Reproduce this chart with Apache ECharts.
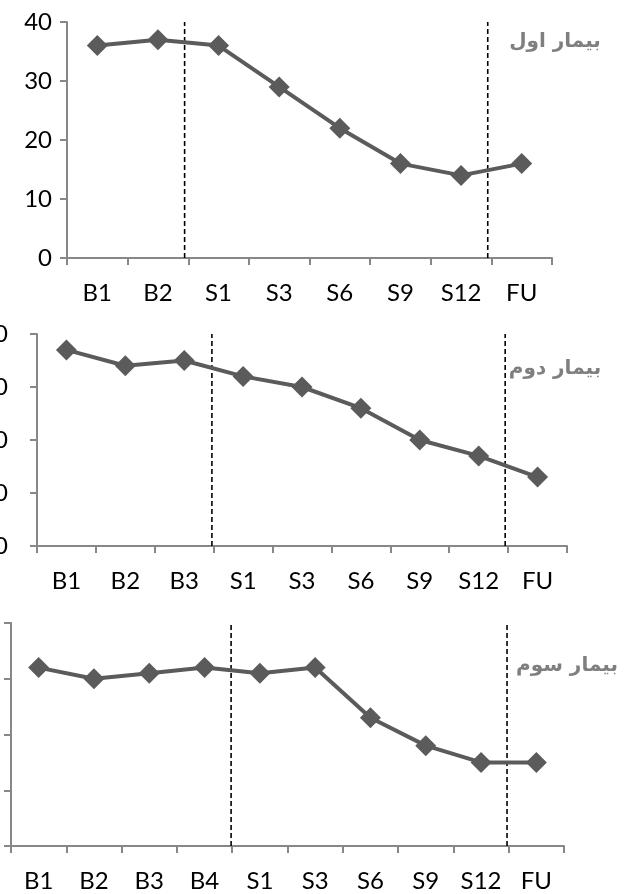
<!DOCTYPE html>
<html><head><meta charset="utf-8">
<script src="https://cdn.jsdelivr.net/npm/echarts@6/dist/echarts.min.js"></script>
<style>html,body{margin:0;padding:0;background:#fff}#c{width:626px;height:894px}</style>
</head><body><div id="c"></div><script>
const categories1 = ['B1','B2','S1','S3','S6','S9','S12','FU'];
const values1 = [36,37,36,29,22,16,14,16];
const phaseBreaks1 = [1.94, 6.94];
const title1 = 'بیمار اول';

const categories2 = ['B1','B2','B3','S1','S3','S6','S9','S12','FU'];
const values2 = [37,34,35,32,30,26,20,17,13];
const phaseBreaks2 = [2.97, 7.95];
const title2 = 'بیمار دوم';

const categories3 = ['B1','B2','B3','B4','S1','S3','S6','S9','S12','FU'];
const values3 = [32,30,31,32,31,32,23,18,15,15];
const phaseBreaks3 = [3.98, 8.97];
const title3 = 'بیمار سوم';

const yMin = 0, yMax = 40, yStep = 10;

const panels = [
  {cats: categories1, vals: values1, breaks: phaseBreaks1, title: title1,
   grid: {left: 67, right: 74, top: 22, height: 236}, yLabelMargin: 15, yLabelShow: true, tx: 555, ty: 42},
  {cats: categories2, vals: values2, breaks: phaseBreaks2, title: title2,
   grid: {left: 37, right: 59, top: 334, height: 212}, yLabelMargin: 29, yLabelShow: true, tx: 555, ty: 369},
  {cats: categories3, vals: values3, breaks: phaseBreaks3, title: title3,
   grid: {left: 11, right: 62, top: 623, height: 223}, yLabelMargin: 40, yLabelShow: false, tx: 567, ty: 666}
];

const axisColor = '#878787';
const lineColor = '#5b5b5b';
const font = 'Lato';

const grid = [], xAxis = [], yAxis = [], series = [], graphic = [];
panels.forEach((p, i) => {
  grid.push(Object.assign({outerBoundsMode: 'none', containLabel: false}, p.grid));
  xAxis.push({
    type: 'category', gridIndex: i, data: p.cats, boundaryGap: true,
    axisLine: {lineStyle: {color: axisColor, width: 2}},
    axisTick: {show: true, length: 7, lineStyle: {color: axisColor, width: 2}},
    axisLabel: {interval: 0, margin: 23, color: '#000', fontSize: 24, fontFamily: font},
    splitLine: {show: false}
  });
  xAxis.push({type: 'value', gridIndex: i, min: 0, max: p.cats.length, show: false});
  yAxis.push({
    type: 'value', gridIndex: i, min: yMin, max: yMax, interval: yStep,
    axisLine: {show: true, lineStyle: {color: axisColor, width: 2}},
    axisTick: {show: true, length: 7, lineStyle: {color: axisColor, width: 2}},
    axisLabel: {show: p.yLabelShow, margin: p.yLabelMargin, color: '#000', fontSize: 24, fontFamily: font},
    splitLine: {show: false}
  });
  series.push({
    type: 'line', xAxisIndex: 2 * i, yAxisIndex: i, data: p.vals,
    symbol: 'diamond', symbolSize: 21,
    itemStyle: {color: lineColor},
    lineStyle: {color: lineColor, width: 4},
    z: 3
  });
  p.breaks.forEach(b => {
    series.push({
      type: 'line', xAxisIndex: 2 * i + 1, yAxisIndex: i,
      data: [[b, yMin], [b, yMax]], symbol: 'none', silent: true,
      lineStyle: {color: '#000', width: 1.6, type: [5, 3]}, z: 2
    });
  });
  graphic.push({
    type: 'text', x: p.tx, y: p.ty,
    style: {text: p.title, fill: '#7f7f7f', font: 'bold 20px "DejaVu Sans"', textAlign: 'center', textVerticalAlign: 'middle'}
  });
});

const chart = echarts.init(document.getElementById('c'), null, {renderer: 'canvas'});
chart.setOption({animation: false, backgroundColor: '#fff', grid, xAxis, yAxis, series, graphic});
</script></body></html>
